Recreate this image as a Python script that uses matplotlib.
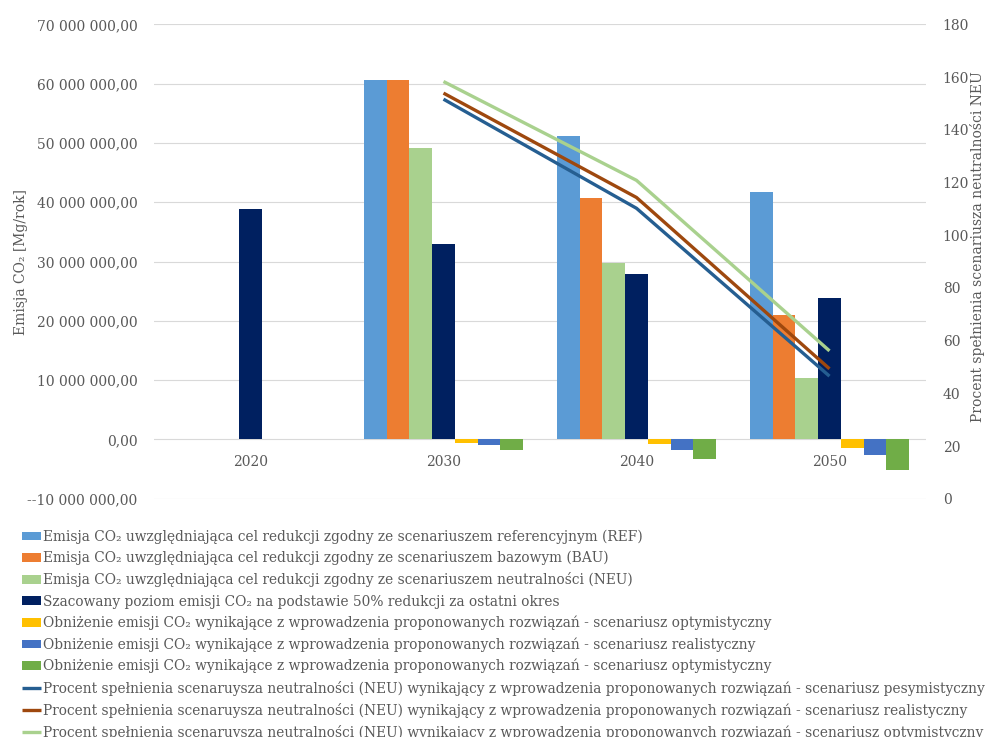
import numpy as np
import matplotlib
matplotlib.use("Agg")
import matplotlib.pyplot as plt
from matplotlib.ticker import FuncFormatter, MultipleLocator

plt.rcParams['font.family'] = ['DejaVu Serif']

years = ["2020", "2030", "2040", "2050"]

emis_ref = [np.nan, 60.6e6, 51.25e6, 41.8e6]
emis_bau = [np.nan, 60.6e6, 40.7e6, 20.9e6]
emis_neu = [np.nan, 49.1e6, 29.8e6, 10.4e6]
emis_50 = [38.8e6, 32.9e6, 27.9e6, 23.8e6]
red_opt1 = [np.nan, -0.55e6, -0.78e6, -1.4e6]
red_real = [np.nan, -0.95e6, -1.74e6, -2.64e6]
red_opt2 = [np.nan, -1.8e6, -3.3e6, -5.2e6]

pct_pes = [np.nan, 151.6, 110.2, 46.5]
pct_real = [np.nan, 153.9, 114.3, 49.3]
pct_opt = [np.nan, 158.3, 120.8, 56.1]

bar_labels = [
    "Emisja CO\u2082 uwzględniająca cel redukcji zgodny ze scenariuszem referencyjnym (REF)",
    "Emisja CO\u2082 uwzględniająca cel redukcji zgodny ze scenariuszem bazowym (BAU)",
    "Emisja CO\u2082 uwzględniająca cel redukcji zgodny ze scenariuszem neutralności (NEU)",
    "Szacowany poziom emisji CO\u2082 na podstawie 50% redukcji za ostatni okres",
    "Obniżenie emisji CO\u2082 wynikające z wprowadzenia proponowanych rozwiązań - scenariusz optymistyczny",
    "Obniżenie emisji CO\u2082 wynikające z wprowadzenia proponowanych rozwiązań - scenariusz realistyczny",
    "Obniżenie emisji CO\u2082 wynikające z wprowadzenia proponowanych rozwiązań - scenariusz optymistyczny",
]
line_labels = [
    "Procent spełnienia scenaruysza neutralności (NEU) wynikający z wprowadzenia proponowanych rozwiązań - scenariusz pesymistyczny",
    "Procent spełnienia scenaruysza neutralności (NEU) wynikający z wprowadzenia proponowanych rozwiązań - scenariusz realistyczny",
    "Procent spełnienia scenaruysza neutralności (NEU) wynikający z wprowadzenia proponowanych rozwiązań - scenariusz optymistyczny",
]

bar_series = [emis_ref, emis_bau, emis_neu, emis_50, red_opt1, red_real, red_opt2]
bar_colors = ["#5B9BD5", "#ED7D31", "#A9D18E", "#002060", "#FFC000", "#4472C4", "#70AD47"]
line_series = [pct_pes, pct_real, pct_opt]
line_colors = ["#255E91", "#9E480E", "#A9D18E"]

text_gray = "#595959"

fig = plt.figure(figsize=(9.89, 7.37), dpi=100)
ax = fig.add_axes([0.1557, 0.3233, 0.7806, 0.6437])
ax2 = ax.twinx()

x = np.arange(len(years))
width = 0.118
handles = []
for i, (vals, col, lab) in enumerate(zip(bar_series, bar_colors, bar_labels)):
    b = ax.bar(x + (i - 3) * width, vals, width, color=col, label=lab, zorder=3)
    handles.append(b)

for vals, col, lab in zip(line_series, line_colors, line_labels):
    ln, = ax2.plot(x, vals, color=col, lw=2.4, label=lab, solid_capstyle="butt", zorder=4)
    handles.append(ln)

ax.set_xlim(-0.5, len(years) - 0.5)
ax.set_ylim(-10e6, 70e6)
ax.yaxis.set_major_locator(MultipleLocator(10e6))


def fmt_left(v, pos):
    s = f"{abs(v):,.2f}".replace(",", " ").replace(".", ",")
    return ("--" + s) if v < 0 else s


ax.yaxis.set_major_formatter(FuncFormatter(fmt_left))
ax.grid(axis="y", color="#D9D9D9", lw=0.8, zorder=0)
ax.set_axisbelow(True)

ax2.set_ylim(0, 180)
ax2.yaxis.set_major_locator(MultipleLocator(20))

for a in (ax, ax2):
    for s in a.spines.values():
        s.set_visible(False)

ax.spines["bottom"].set_position(("data", 0))
ax.set_xticks(x)
ax.set_xticklabels(years)
ax.tick_params(axis="x", length=0, pad=11, labelsize=10, labelcolor=text_gray)
ax.tick_params(axis="y", length=0, pad=12, labelsize=10, labelcolor=text_gray)
ax2.tick_params(axis="y", length=0, pad=12, labelsize=10, labelcolor=text_gray)

ax.set_ylabel("Emisja CO\u2082 [Mg/rok]", fontsize=10, color=text_gray)
ax.yaxis.set_label_coords(-0.163, 0.5)
ax2.set_ylabel("Procent spełnienia scenariusza neutralności NEU", fontsize=10, color=text_gray)
ax2.yaxis.set_label_coords(1.057, 0.532)

fig.legend(handles=handles, loc="upper left", bbox_to_anchor=(0.022, 0.2817),
           frameon=False, ncol=1, fontsize=9.88, labelcolor=text_gray,
           handlelength=1.4, handleheight=0.6, handletextpad=0.15,
           labelspacing=0.52, borderpad=0, borderaxespad=0)

fig.savefig("out.png", dpi=100)
